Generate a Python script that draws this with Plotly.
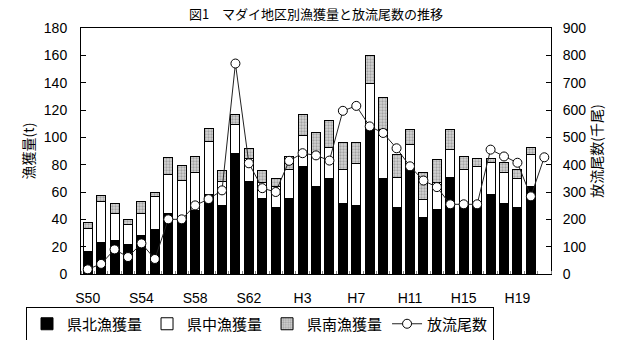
import plotly.graph_objects as go

years = ["S50","S51","S52","S53","S54","S55","S56","S57","S58","S59","S60","S61","S62","S63",
         "H1","H2","H3","H4","H5","H6","H7","H8","H9","H10","H11","H12","H13","H14","H15","H16",
         "H17","H18","H19","H20","H21"]
# catch (t) by district; H21 has no catch data
north = [16.3,23.1,24.8,21.8,28.4,32.5,44.2,39.3,46.6,58.3,50.3,88.4,67.7,55.1,
         48.6,55.1,78.9,64.3,70.1,51.5,50.3,106.8,70.1,48.6,80.1,41.7,47.1,70.9,48.6,48.6,
         58.3,51.9,48.6,64.3,None]
central = [17.0,29.6,19.4,14.6,16.2,24.3,28.6,28.9,27.9,38.3,17.7,20.8,16.6,12.1,
           15.5,21.4,22.8,22.4,22.6,25.0,30.3,32.8,35.3,21.8,14.4,12.9,20.1,19.9,27.9,30.1,
           23.1,22.2,21.5,23.1,None]
south = [4.6,4.8,7.3,3.4,8.1,3.2,12.6,11.0,11.4,10.2,8.0,7.3,7.7,8.8,
         6.0,9.2,14.8,16.9,19.5,19.4,15.3,20.4,23.7,16.8,11.1,19.9,16.3,15.3,9.4,5.6,
         3.3,7.3,6.1,5.3,None]
released = [17,37,90,62,112,55,200,200,251,274,306,770,405,314,
            300,414,442,434,415,597,615,540,516,460,394,342,318,255,255,255,
            455,430,407,284,427]

tick_idx = [0,4,8,12,16,20,24,28,32]
tick_txt = [years[i] for i in tick_idx]
x = list(range(len(years)))

font_num = "Liberation Sans, Arial, Noto Sans CJK JP"
font_jp = "Noto Sans CJK JP, Liberation Sans"

fig = go.Figure()
fig.add_trace(go.Bar(x=x, y=north, name="県北漁獲量",
                     marker=dict(color="black", line=dict(color="black", width=1))))
fig.add_trace(go.Bar(x=x, y=central, name="県中漁獲量",
                     marker=dict(color="white", line=dict(color="black", width=1))))
fig.add_trace(go.Bar(x=x, y=south, name="県南漁獲量",
                     marker=dict(color="#c8c8c8", line=dict(color="black", width=1),
                                 pattern=dict(shape=".", fgcolor="#707070", bgcolor="#d4d4d4",
                                              size=3, solidity=0.45))))
fig.add_trace(go.Scatter(x=x, y=released, name="放流尾数", yaxis="y2", mode="lines+markers",
                         line=dict(color="#222222", width=1),
                         marker=dict(symbol="circle", size=9, color="white",
                                     line=dict(color="black", width=1))))

fig.update_layout(
    width=620, height=340,
    margin=dict(l=81, r=69, t=28, b=66, autoexpand=False),
    barmode="stack", bargap=0.33,
    plot_bgcolor="white", paper_bgcolor="white",
    font=dict(family=font_num, size=14, color="black"),
    title=dict(text="図1　マダイ地区別漁獲量と放流尾数の推移", x=0.5, xref="paper", y=1 - 14/340,
               yanchor="middle", font=dict(family=font_jp, size=13, color="black", weight="normal")),
    xaxis=dict(range=[-0.5, 34.5], tickmode="array", tickvals=tick_idx, ticktext=tick_txt,
               ticks="", showline=True, linecolor="black", linewidth=1, mirror=True,
               showgrid=False, zeroline=False, ticklabelstandoff=11,
               tickfont=dict(family=font_num, size=14),
               minor=dict(tickmode="linear", tick0=-0.5, dtick=1, ticks="inside",
                          ticklen=3, tickcolor="#888888", showgrid=False)),
    yaxis=dict(range=[0, 180], dtick=20, ticks="inside", ticklen=5, tickcolor="black",
               showline=True, linecolor="black", linewidth=1, showgrid=False, zeroline=False,
               ticklabelstandoff=10, tickfont=dict(family=font_num, size=14),
               title=dict(text="漁獲量(t)", font=dict(family=font_jp, size=14), standoff=5)),
    yaxis2=dict(range=[0, 900], dtick=100, overlaying="y", side="right", ticks="inside",
                ticklen=5, tickcolor="black", showline=True, linecolor="black", linewidth=1,
                showgrid=False, zeroline=False, ticklabelstandoff=8,
                tickfont=dict(family=font_num, size=14),
                title=dict(text="放流尾数(千尾)", font=dict(family=font_jp, size=14), standoff=4)),
    legend=dict(orientation="h", xref="container", yref="container",
                x=26/620, y=1 - 324/340, xanchor="left", yanchor="middle",
                bordercolor="black", borderwidth=1, bgcolor="white",
                font=dict(family=font_jp, size=15), itemwidth=30,
                traceorder="normal", tracegroupgap=0),
    showlegend=True,
)

fig.write_html("out.html")
